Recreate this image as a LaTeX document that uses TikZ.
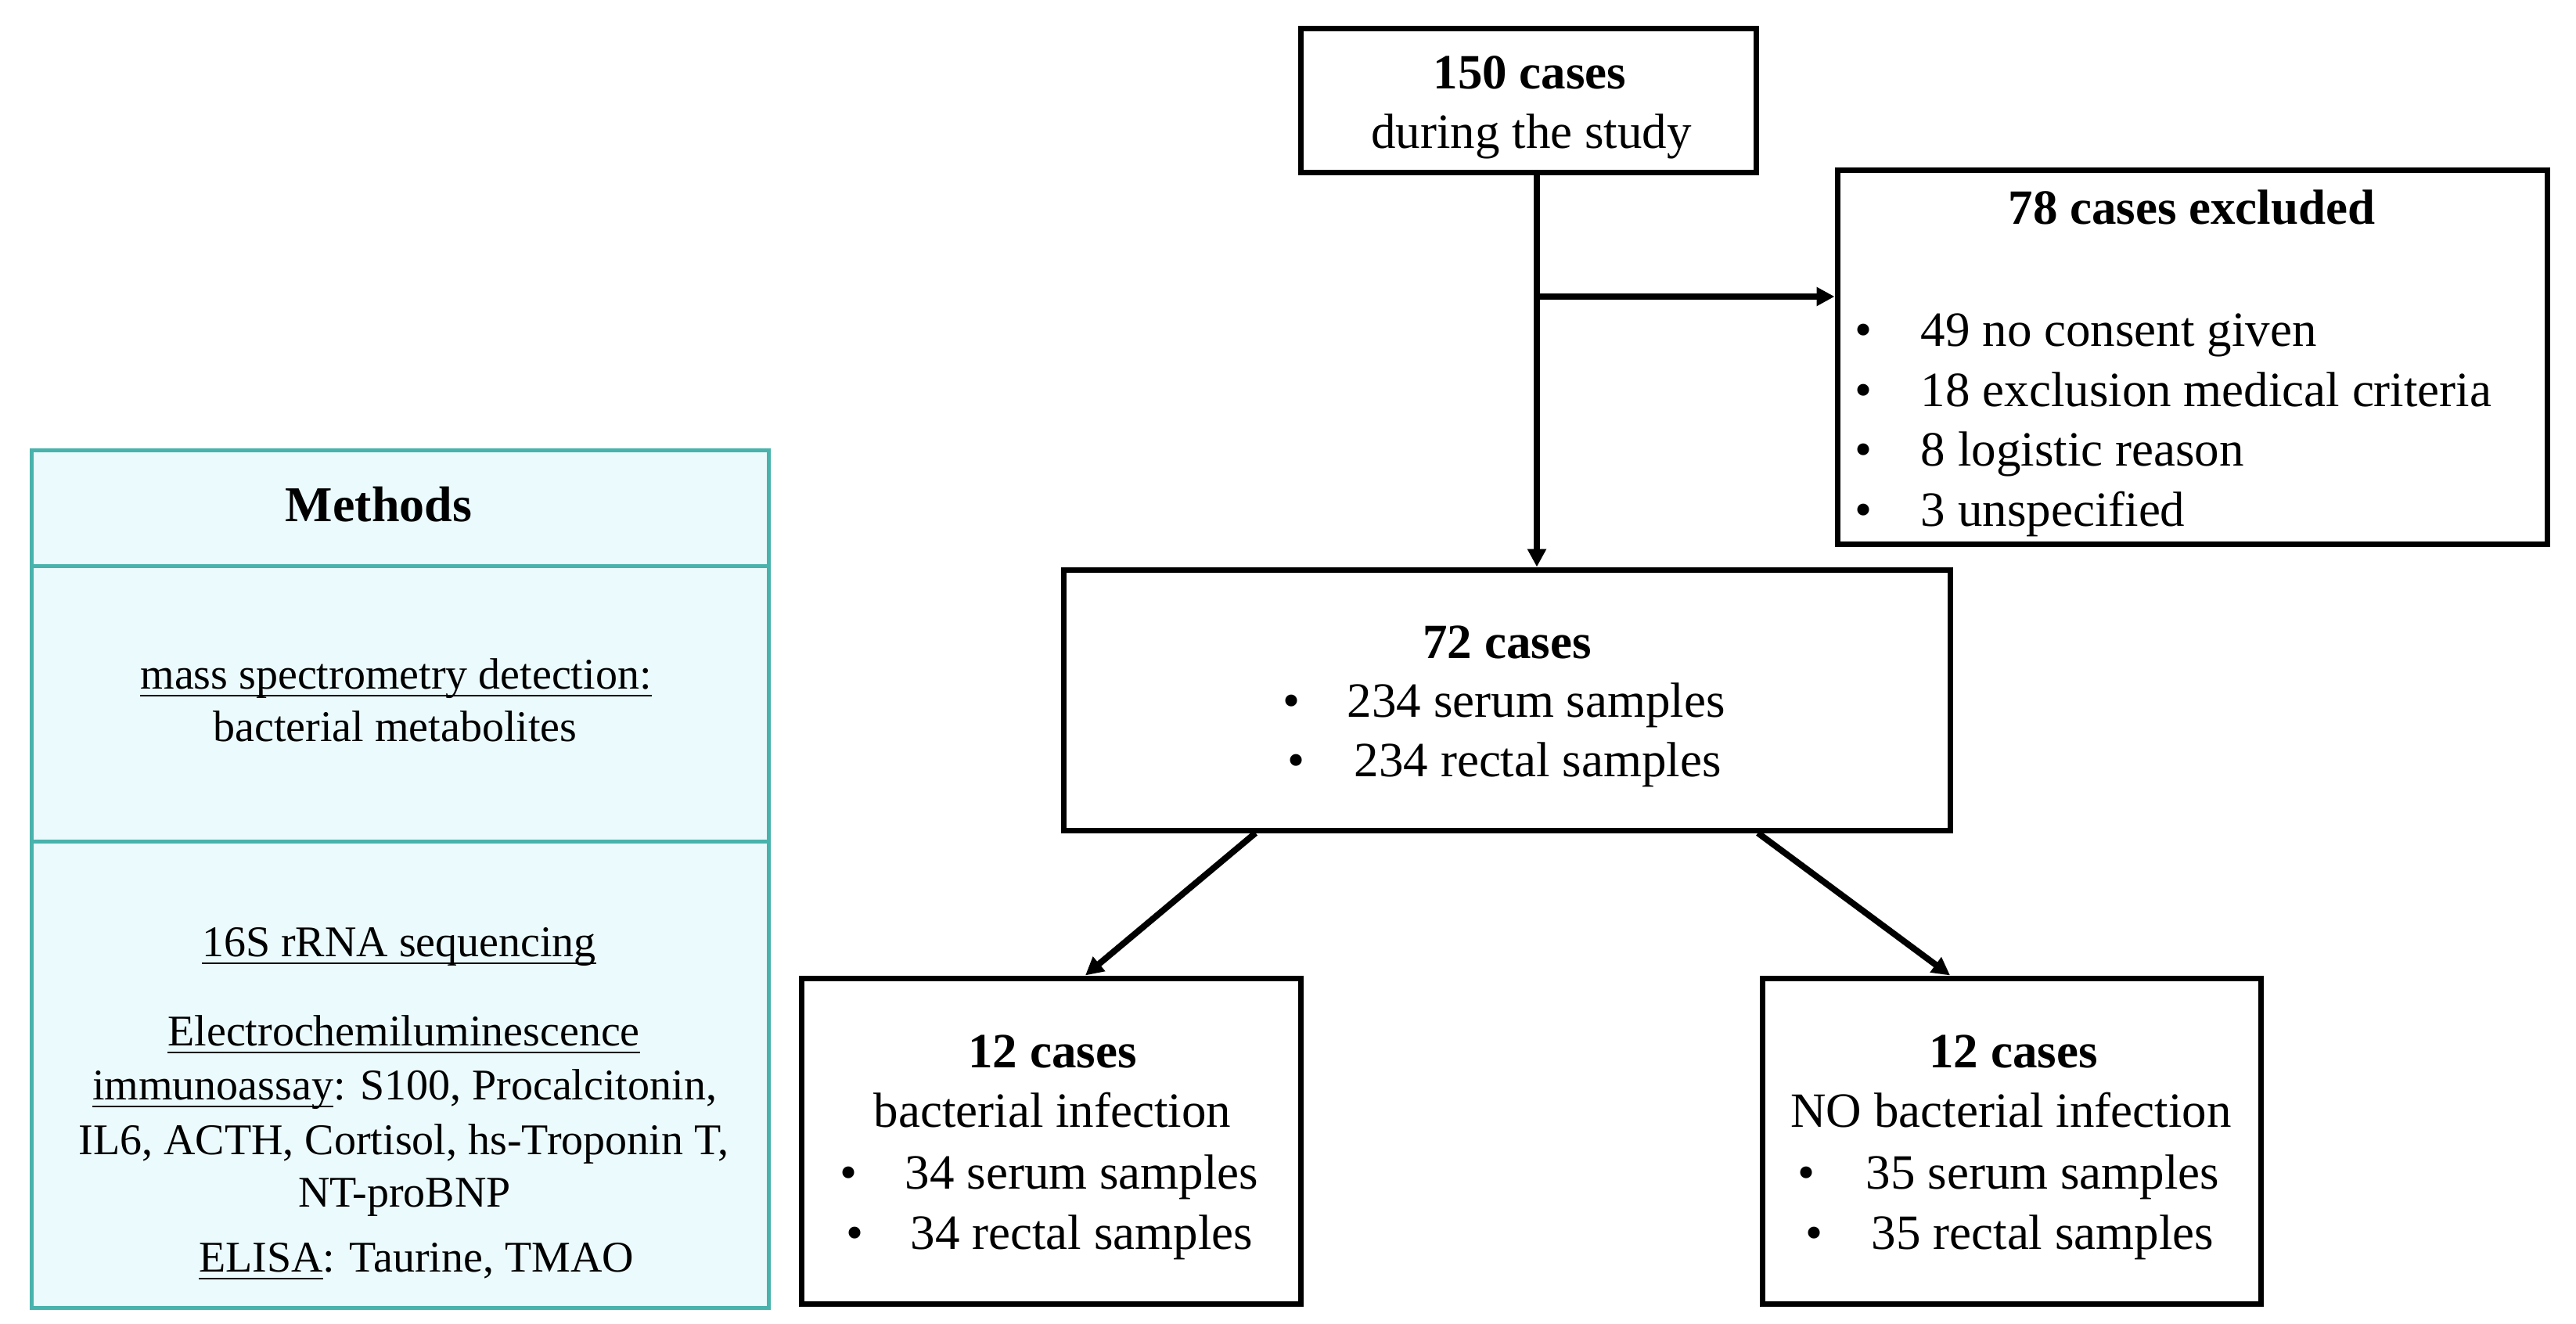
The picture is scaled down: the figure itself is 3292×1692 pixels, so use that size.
\documentclass[tikz,border=0pt]{standalone}
\usepackage{fontspec}
\setmainfont{Liberation Serif}
\usetikzlibrary{arrows.meta}
\definecolor{tealline}{RGB}{72,178,172}
\definecolor{cyanfill}{RGB}{235,250,252}
\newcommand{\myul}[1]{\setbox0\hbox{#1}\rlap{\rule[-2.6pt]{\wd0}{0.7pt}}\box0}
\begin{document}
\begin{tikzpicture}[x=0.25pt,y=-0.25pt,
  box/.style={draw=black, line width=1.75pt, fill=white, inner sep=0pt, rectangle},
  flow/.style={font=\fontsize{15.75}{19}\selectfont, inner sep=0pt, anchor=base},
  flowl/.style={flow, anchor=base west},
  meth/.style={font=\fontsize{14}{17}\selectfont, inner sep=0pt, anchor=base},
  arr/.style={line width=2pt, -{Triangle[length=5.75pt,width=5.75pt]}},
  divider/.style={draw=tealline, line width=1.25pt}]
\useasboundingbox (0,0) rectangle (3292,1692);

% ---------- Methods panel ----------
\node[draw=tealline, fill=cyanfill, line width=1.25pt, minimum width=235.5pt, minimum height=274pt, inner sep=0pt] (meth) at (511.5,1123.5) {};
\draw[divider] (meth.west |- 0,723) -- (meth.east |- 0,723);
\draw[divider] (meth.west |- 0,1075) -- (meth.east |- 0,1075);
\node[meth, font=\fontsize{16}{19}\selectfont\bfseries] (mh) at (484,666) {Methods};
\node[meth] (m1) at (506,880) {\myul{mass spectrometry detection:}};
\node[meth] (m2) at (505,947) {bacterial metabolites};
\node[meth] (m3) at (510,1222) {\myul{16S rRNA sequencing}};
\node[meth] (m4) at (516,1336) {\myul{Electrochemiluminescence}};
\node[meth] (m5) at (517,1405) {\myul{immunoassay}: S100, Procalcitonin,};
\node[meth] (m6) at (516,1475) {IL6, ACTH, Cortisol, hs-Troponin T,};
\node[meth] (m7) at (517,1542) {NT-proBNP};
\node[meth] (m8) at (532,1625) {\myul{ELISA}: Taurine, TMAO};

% ---------- Flow boxes ----------
\node[box, minimum width=145.5pt, minimum height=46pt] (top) at (1953,128) {};
\node[box, minimum width=226.75pt, minimum height=119.5pt] (excl) at (2801.5,456) {};
\node[box, minimum width=283.25pt, minimum height=83.25pt] (mid) at (1925.5,894.5) {};
\node[box, minimum width=159.5pt, minimum height=104pt] (lb) at (1343,1458) {};
\node[box, minimum width=159.25pt, minimum height=104pt] (rb) at (2570.5,1458) {};

% top box text
\node[flow, font=\fontsize{15.75}{19}\selectfont\bfseries] (t1) at (1955,113) {150 cases};
\node[flow] (t2) at (1957,189) {during the study};

% excluded box text
\node[flow, font=\fontsize{15.75}{19}\selectfont\bfseries] (e0) at (2801,286) {78 cases excluded};
\node[flow] (eb1) at (2382,442) {•};
\node[flowl] (e1) at (2454,442) {49 no consent given};
\node[flow] (eb2) at (2382,519) {•};
\node[flowl] (e2) at (2454,519) {18 exclusion medical criteria};
\node[flow] (eb3) at (2382,595) {•};
\node[flowl] (e3) at (2454,595) {8 logistic reason};
\node[flow] (eb4) at (2382,672) {•};
\node[flowl] (e4) at (2454,672) {3 unspecified};

% 72 cases box text
\node[flow, font=\fontsize{15.75}{19}\selectfont\bfseries] (c0) at (1926,841) {72 cases};
\node[flow] (cb1) at (1651,916) {•};
\node[flowl] (c1) at (1721,916) {234 serum samples};
\node[flow] (cb2) at (1657,992) {•};
\node[flowl] (c2) at (1730,992) {234 rectal samples};

% left bottom box text
\node[flow, font=\fontsize{15.75}{19}\selectfont\bfseries] (l0) at (1345,1364) {12 cases};
\node[flow] (l1) at (1345,1440) {bacterial infection};
\node[flow] (lb1) at (1085,1519) {•};
\node[flowl] (l2) at (1156,1519) {34 serum samples};
\node[flow] (lb2) at (1093,1596) {•};
\node[flowl] (l3) at (1163,1596) {34 rectal samples};

% right bottom box text
\node[flow, font=\fontsize{15.75}{19}\selectfont\bfseries] (r0) at (2573,1364) {12 cases};
\node[flow] (r1) at (2570,1440) {NO bacterial infection};
\node[flow] (rb1) at (2309,1519) {•};
\node[flowl] (r2) at (2384,1519) {35 serum samples};
\node[flow] (rb2) at (2319,1596) {•};
\node[flowl] (r3) at (2391,1596) {35 rectal samples};

% ---------- Connectors ----------
\coordinate (vs) at ([xshift=2.75pt]top.south);
\draw[arr] (vs) -- (vs |- mid.north);
\coordinate (br) at (vs |- 0,379);
\draw[arr] (br) -- (br -| excl.west);
\draw[arr] ([xshift=-80.25pt]mid.south) -- ([xshift=11pt]lb.north);
\draw[arr] ([xshift=80.25pt]mid.south) -- ([xshift=-19.6pt]rb.north);
\end{tikzpicture}
\end{document}
